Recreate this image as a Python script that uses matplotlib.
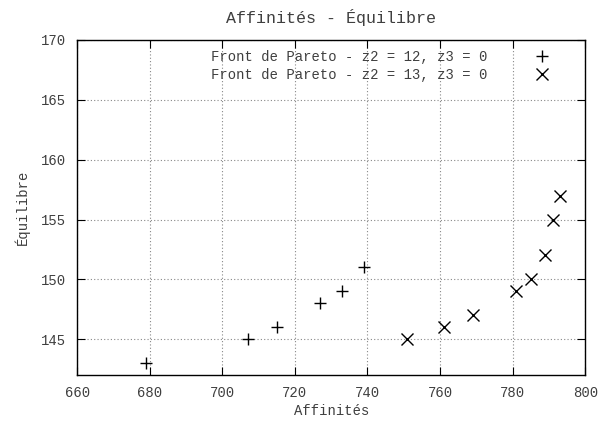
import matplotlib.pyplot as plt
import numpy as np

plt.rcParams['font.family'] = ['Liberation Mono', 'DejaVu Sans Mono']
plt.rcParams['font.size'] = 10

# Front de Pareto - z2 = 12, z3 = 0
aff_12 = [679, 707, 715, 727, 733, 739]
equ_12 = [143, 145, 146, 148, 149, 151]

# Front de Pareto - z2 = 13, z3 = 0
aff_13 = [751, 761, 769, 781, 785, 789, 791, 793]
equ_13 = [145, 146, 147, 149, 150, 152, 155, 157]

xticks = np.arange(660, 801, 20)
yticks = np.arange(145, 171, 5)

text_col = '#3f3f3f'


def main():
    fig = plt.figure(figsize=(6.03, 4.21), dpi=100)
    ax = fig.add_axes([0.128, 0.109, 0.8425, 0.796])

    ax.plot(aff_12, equ_12, linestyle='none', marker='+', markersize=9,
            markeredgewidth=1.0, color='black',
            label='Front de Pareto - z2 = 12, z3 = 0')
    ax.plot(aff_13, equ_13, linestyle='none', marker='x', markersize=8,
            markeredgewidth=1.0, color='black',
            label='Front de Pareto - z2 = 13, z3 = 0')

    ax.set_xlim(660, 800)
    ax.set_ylim(142, 170)
    ax.set_xticks(xticks)
    ax.set_yticks(yticks)
    ax.grid(True, linestyle=(0, (1, 2)), color='#888888', linewidth=0.8)
    ax.tick_params(direction='in', top=True, right=True, length=6,
                   width=0.8, colors='black', labelcolor=text_col, pad=8)
    for s in ax.spines.values():
        s.set_linewidth(1.0)

    ax.set_title('Affinités - Équilibre', color=text_col, pad=12)
    ax.set_xlabel('Affinités', color=text_col, labelpad=3)
    ax.set_ylabel('Équilibre', color=text_col, labelpad=8)

    leg = ax.legend(loc='upper right', frameon=False, markerfirst=False,
                    handlelength=1.5, handletextpad=3.2, borderaxespad=0.3,
                    labelspacing=0.3, bbox_to_anchor=(0.955, 1.0))
    for t in leg.get_texts():
        t.set_color(text_col)

    fig.savefig('out.png', dpi=100)


if __name__ == '__main__':
    main()
